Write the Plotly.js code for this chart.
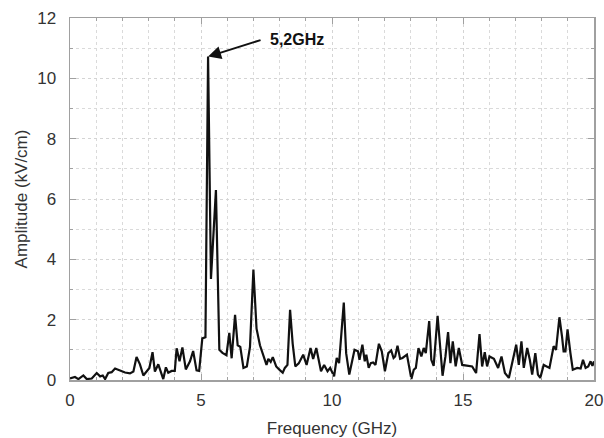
<!DOCTYPE html>
<html>
<head>
<meta charset="utf-8">
<script src="https://cdn.plot.ly/plotly-3.0.1.min.js"></script>
<style>html,body{margin:0;padding:0;background:#fff;}#chart{width:604px;height:438px;}</style>
</head>
<body>
<div id="chart"></div>
<script>
const freq = [0,0.19,0.32,0.51,0.64,0.83,1.02,1.15,1.25,1.34,1.46,1.59,1.72,1.91,2.1,2.29,2.42,2.54,2.67,2.8,2.93,3.03,3.15,3.24,3.37,3.46,3.56,3.66,3.75,3.88,4.0,4.07,4.18,4.29,4.42,4.58,4.7,4.83,4.93,5.05,5.17,5.27,5.38,5.57,5.7,5.82,5.97,6.08,6.17,6.3,6.4,6.5,6.62,6.75,6.87,7.0,7.12,7.25,7.38,7.5,7.57,7.66,7.74,7.87,8.02,8.12,8.2,8.3,8.4,8.5,8.6,8.73,8.9,9.03,9.18,9.28,9.4,9.5,9.58,9.7,9.83,9.93,10.08,10.18,10.27,10.45,10.54,10.66,10.86,10.99,11.05,11.16,11.25,11.31,11.4,11.48,11.57,11.66,11.79,11.9,12.02,12.15,12.26,12.35,12.41,12.5,12.6,12.69,12.86,13.03,13.12,13.2,13.3,13.41,13.5,13.58,13.71,13.79,13.88,14.03,14.13,14.22,14.33,14.43,14.52,14.61,14.72,14.84,14.97,15.16,15.35,15.5,15.63,15.73,15.83,15.92,16.01,16.18,16.34,16.47,16.6,16.75,16.88,17.03,17.13,17.23,17.32,17.45,17.55,17.64,17.76,17.86,17.95,18.08,18.3,18.46,18.55,18.68,18.78,18.84,18.91,18.99,19.1,19.19,19.36,19.49,19.58,19.68,19.78,19.87,19.94,20.0];
const amplitude = [0.05,0.1,0.03,0.15,0.03,0.05,0.23,0.12,0.15,0.03,0.23,0.26,0.38,0.32,0.25,0.22,0.28,0.76,0.52,0.15,0.3,0.4,0.92,0.28,0.52,0.26,0.03,0.42,0.24,0.3,0.3,1.05,0.62,1.08,0.35,0.62,0.96,0.32,0.3,1.38,1.42,10.72,3.35,6.3,1.0,0.9,0.82,1.56,0.72,2.16,1.15,1.1,0.4,0.45,1.1,3.66,1.7,1.15,0.78,0.5,0.7,0.6,0.76,0.45,0.32,0.24,0.4,0.5,2.33,1.2,0.45,0.55,0.84,0.5,1.06,0.7,1.06,0.62,0.29,0.5,0.29,0.4,0.12,0.73,0.56,2.57,0.89,0.18,1.0,0.95,0.67,1.17,0.62,0.84,0.4,0.56,0.58,0.5,1.2,0.95,0.29,0.89,0.98,0.73,0.78,1.14,0.7,0.73,0.84,0.03,0.34,0.4,1.06,0.78,1.06,0.89,1.95,0.67,0.47,2.13,1.12,0.14,0.78,1.59,0.56,1.28,0.45,1.06,0.5,0.48,0.45,0.23,1.52,0.45,0.92,0.45,0.78,0.7,0.4,0.78,0.23,0.07,0.56,1.17,0.5,1.28,0.4,1.06,0.67,0.18,0.89,0.18,0.07,0.5,0.4,1.12,1.0,2.08,1.44,0.95,0.95,1.68,0.89,0.34,0.4,0.38,0.67,0.4,0.45,0.62,0.47,0.62];
const peakFreq = 5.27, peakAmp = 10.72;
const peakLabel = '5,2GHz';

const FONT = 'Liberation Sans, Arial, sans-serif';
const axisCommon = {
  showline: true, linecolor: '#a0a0a0', linewidth: 1.5, mirror: 'allticks',
  ticks: 'inside', ticklen: 6, tickcolor: '#a0a0a0', tickwidth: 1,
  showgrid: true, gridcolor: '#d4d4d4', griddash: 'dot', gridwidth: 1,
  zeroline: false,
  tickfont: {family: FONT, size: 17, color: '#333'}
};

const data = [{
  x: freq, y: amplitude, type: 'scatter', mode: 'lines',
  line: {color: '#111', width: 2.2}, hoverinfo: 'skip'
}];

const layout = {
  width: 604, height: 438,
  margin: {l: 70, r: 10, t: 18, b: 58},
  paper_bgcolor: '#fff', plot_bgcolor: '#fff',
  showlegend: false,
  xaxis: Object.assign({}, axisCommon, {
    range: [0, 20], dtick: 5, tick0: 0, ticklabelstandoff: 4,
    minor: {dtick: 1, ticks: 'inside', ticklen: 3, tickcolor: '#a0a0a0', showgrid: true, gridcolor: '#dadada', griddash: 'dot'},
    title: {text: 'Frequency (GHz)', font: {family: FONT, size: 17, color: '#333'}, standoff: 15}
  }),
  yaxis: Object.assign({}, axisCommon, {
    range: [0, 12], dtick: 2, tick0: 0, ticklabelstandoff: 9,
    minor: {dtick: 1, ticks: 'inside', ticklen: 3, tickcolor: '#a0a0a0', showgrid: true, gridcolor: '#dadada', griddash: 'dot'},
    title: {text: 'Amplitude (kV/cm)', font: {family: FONT, size: 17, color: '#333'}, standoff: 5}
  }),
  annotations: [
    {x: peakFreq, y: peakAmp, xref: 'x', yref: 'y', text: '', showarrow: true,
     ax: 54, ay: -17, arrowhead: 2, arrowsize: 1.3, arrowwidth: 2, arrowcolor: '#111'},
    {x: 7.56, y: 11.28, xref: 'x', yref: 'y', text: '<b>' + peakLabel + '</b>', showarrow: false,
     xanchor: 'left', yanchor: 'middle', font: {family: FONT, size: 16, color: '#111'}}
  ]
};

Plotly.newPlot('chart', data, layout, {displayModeBar: false, staticPlot: true});
</script>
</body>
</html>
